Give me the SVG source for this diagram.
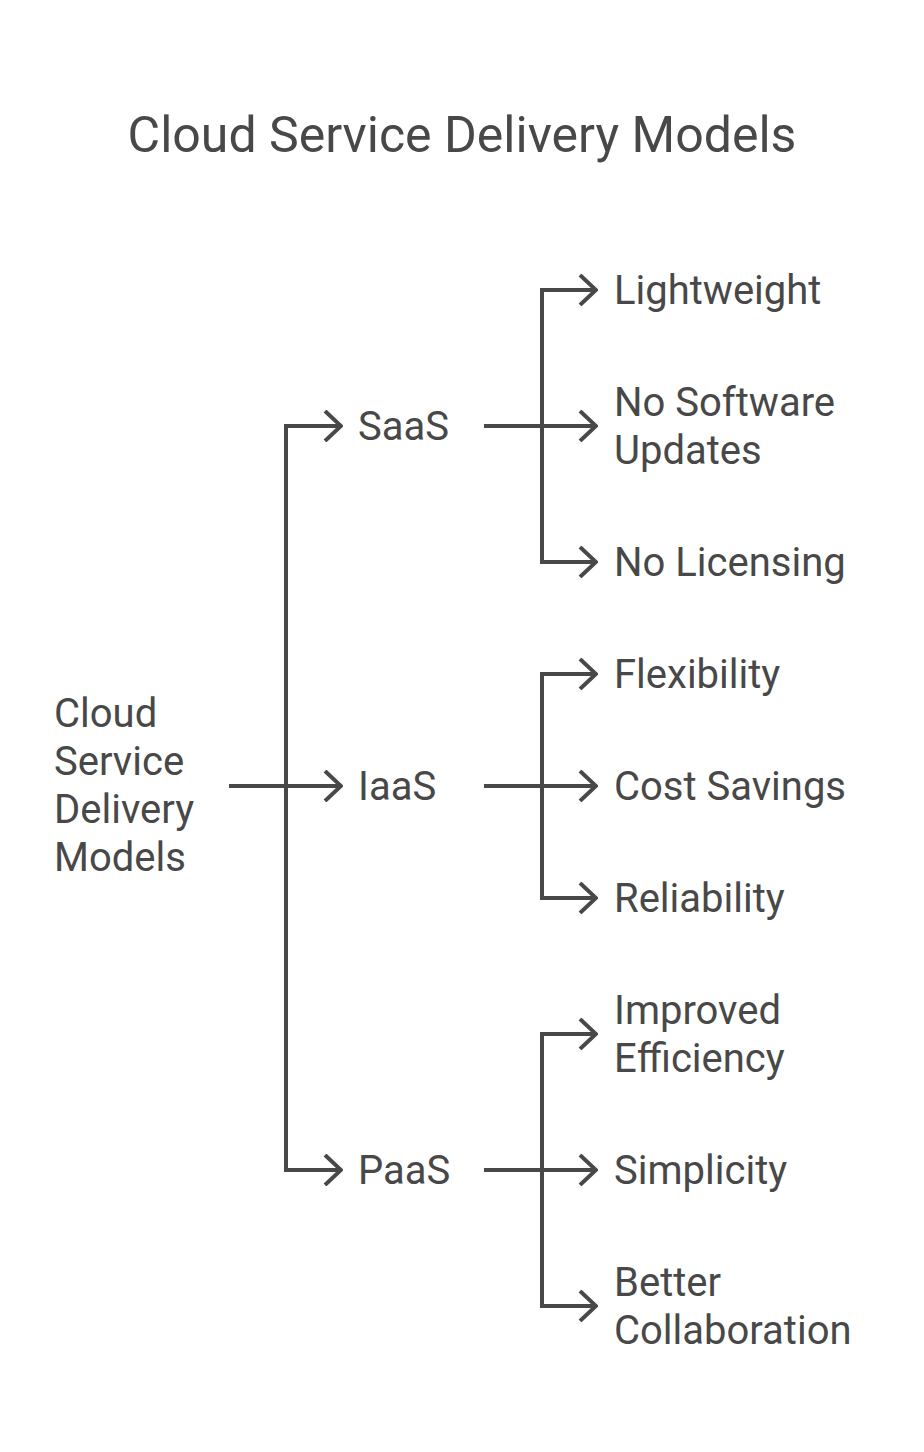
<svg xmlns="http://www.w3.org/2000/svg" width="924" height="1452" viewBox="0 0 924 1452">
<style>
text{font-family:Roboto,"Liberation Sans",sans-serif;fill:#484848;}
.t{font-size:50px;}
.n{font-size:40px;}
.c{fill:none;stroke:#484848;stroke-width:4;}
</style>
<defs>
<marker id="a" viewBox="0 0 20 32" refX="18" refY="16" markerWidth="20" markerHeight="32" markerUnits="userSpaceOnUse" orient="auto"><path d="M2,1 L18,16 L2,31" fill="none" stroke="#484848" stroke-width="4"/></marker>
</defs>
<rect width="924" height="1452" fill="#fff"/>
<text class="t" x="462" y="152" text-anchor="middle">Cloud Service Delivery Models</text>
<g id="connectors" class="c">
<path d="M229,786 H341" marker-end="url(#a)"/>
<path d="M286,786 V426 H341" marker-end="url(#a)"/>
<path d="M286,786 V1170 H341" marker-end="url(#a)"/>
<path d="M484,426 H596" marker-end="url(#a)"/>
<path d="M542,426 V290 H596" marker-end="url(#a)"/>
<path d="M542,426 V562 H596" marker-end="url(#a)"/>
<path d="M484,786 H596" marker-end="url(#a)"/>
<path d="M542,786 V674 H596" marker-end="url(#a)"/>
<path d="M542,786 V898 H596" marker-end="url(#a)"/>
<path d="M484,1170 H596" marker-end="url(#a)"/>
<path d="M542,1170 V1034 H596" marker-end="url(#a)"/>
<path d="M542,1170 V1306 H596" marker-end="url(#a)"/>
</g>
<g id="root"><text class="n"><tspan x="54" y="727">Cloud</tspan><tspan x="54" y="775">Service</tspan><tspan x="54" y="823">Delivery</tspan><tspan x="54" y="871">Models</tspan></text></g>
<g id="saas"><text class="n" x="358" y="440">SaaS</text></g>
<g id="iaas"><text class="n" x="358" y="800">IaaS</text></g>
<g id="paas"><text class="n" x="358" y="1184">PaaS</text></g>
<g id="lightweight"><text class="n" x="614" y="304">Lightweight</text></g>
<g id="nosoftware"><text class="n"><tspan x="614" y="416">No Software</tspan><tspan x="614" y="464">Updates</tspan></text></g>
<g id="nolicensing"><text class="n" x="614" y="576">No Licensing</text></g>
<g id="flexibility"><text class="n" x="614" y="688">Flexibility</text></g>
<g id="cost"><text class="n" x="614" y="800">Cost Savings</text></g>
<g id="reliability"><text class="n" x="614" y="912">Reliability</text></g>
<g id="improved"><text class="n"><tspan x="614" y="1024">Improved</tspan><tspan x="614" y="1072">Efficiency</tspan></text></g>
<g id="simplicity"><text class="n" x="614" y="1184">Simplicity</text></g>
<g id="better"><text class="n"><tspan x="614" y="1296">Better</tspan><tspan x="614" y="1344">Collaboration</tspan></text></g>
</svg>
